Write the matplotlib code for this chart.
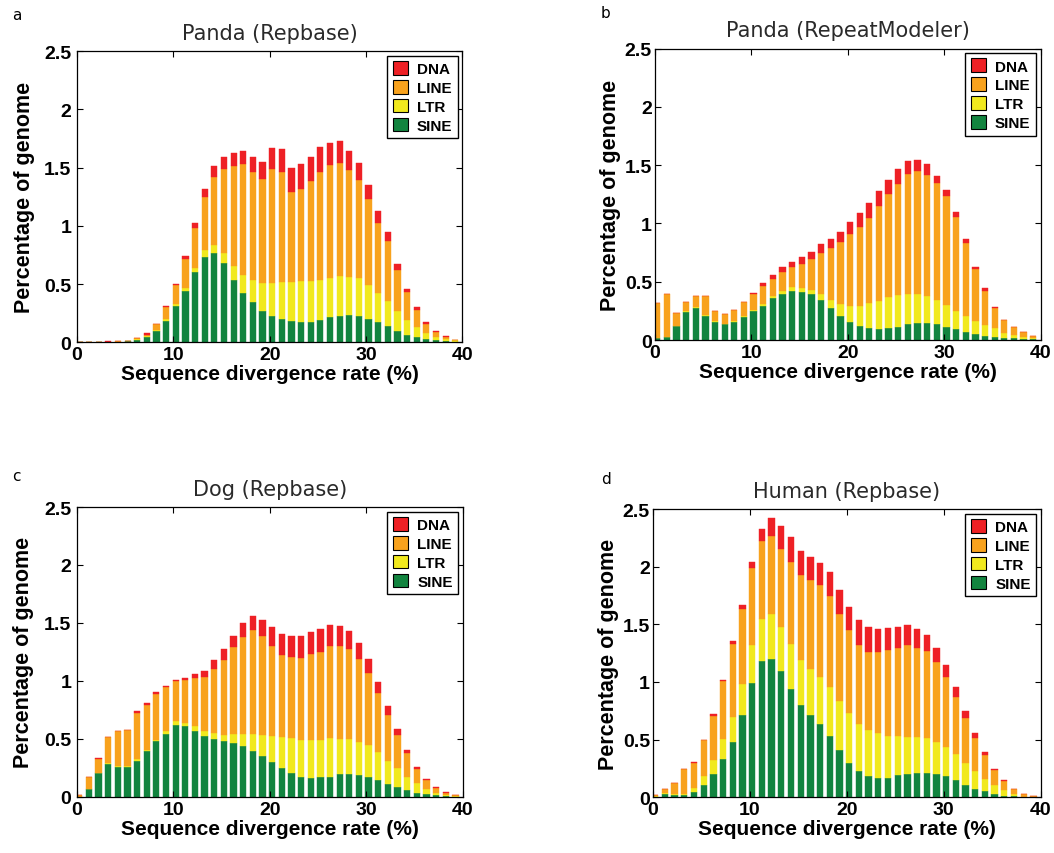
import numpy as np
import matplotlib
matplotlib.use("Agg")
import matplotlib.pyplot as plt
from matplotlib.patches import Patch
from matplotlib.ticker import FormatStrFormatter

# one bar per 1% bin of sequence divergence, values in % of genome
rate = np.arange(40)

# panda, Repbase library
panda_rb_sine = [0, 0, 0, 0, 0, 0.012, 0.02, 0.043, 0.097, 0.183,
                 0.309, 0.438, 0.607, 0.736, 0.768, 0.682, 0.533, 0.427, 0.344, 0.269,
                 0.223, 0.203, 0.183, 0.175, 0.175, 0.192, 0.215, 0.223, 0.235, 0.223,
                 0.203, 0.175, 0.140, 0.100, 0.066, 0.043, 0.026, 0.017, 0.011, 0.003]
panda_rb_ltr = [0, 0, 0, 0, 0, 0, 0.01, 0.009, 0.009, 0.017,
                0.023, 0.029, 0.034, 0.052, 0.063, 0.086, 0.120, 0.149, 0.189, 0.244,
                0.287, 0.318, 0.338, 0.347, 0.347, 0.341, 0.338, 0.344, 0.327, 0.327,
                0.289, 0.252, 0.212, 0.166, 0.126, 0.086, 0.052, 0.026, 0.020, 0.015]
panda_rb_line = [0, 0, 0, 0.005, 0.01, 0, 0.005, 0.009, 0.054, 0.106,
                 0.160, 0.244, 0.341, 0.458, 0.585, 0.722, 0.860, 0.957, 0.928, 0.888,
                 0.980, 0.940, 0.768, 0.797, 0.860, 0.928, 0.968, 0.968, 0.914, 0.840,
                 0.734, 0.593, 0.519, 0.352, 0.238, 0.152, 0.083, 0.046, 0.017, 0.003]
panda_rb_dna = [0, 0, 0, 0.01, 0, 0, 0, 0.017, 0, 0.006,
                0.011, 0.026, 0.043, 0.074, 0.097, 0.097, 0.109, 0.106, 0.126, 0.146,
                0.181, 0.198, 0.209, 0.212, 0.209, 0.212, 0.189, 0.189, 0.169, 0.149,
                0.123, 0.109, 0.077, 0.054, 0.029, 0.020, 0.014, 0.011, 0.009, 0]

# panda, RepeatModeler library
panda_rm_sine = [0.017, 0.029, 0.123, 0.243, 0.271, 0.209, 0.157, 0.134, 0.157, 0.197,
                 0.249, 0.294, 0.357, 0.391, 0.420, 0.409, 0.391, 0.340, 0.271, 0.209,
                 0.157, 0.123, 0.100, 0.091, 0.100, 0.111, 0.134, 0.143, 0.143, 0.134,
                 0.111, 0.091, 0.071, 0.049, 0.034, 0.026, 0.017, 0.014, 0.009, 0.009]
panda_rm_ltr = [0, 0, 0, 0.003, 0.009, 0.006, 0.003, 0.003, 0.003, 0.011,
                0.011, 0.017, 0.020, 0.029, 0.031, 0.034, 0.037, 0.057, 0.071, 0.103,
                0.134, 0.169, 0.214, 0.243, 0.266, 0.274, 0.263, 0.254, 0.237, 0.209,
                0.191, 0.157, 0.137, 0.117, 0.097, 0.074, 0.043, 0.031, 0.020, 0.011]
panda_rm_line = [0.297, 0.363, 0.106, 0.077, 0.097, 0.163, 0.089, 0.083, 0.100, 0.114,
                 0.131, 0.154, 0.146, 0.160, 0.171, 0.209, 0.266, 0.351, 0.449, 0.529,
                 0.614, 0.677, 0.729, 0.814, 0.883, 0.957, 1.031, 1.051, 1.037, 1.000,
                 0.931, 0.806, 0.620, 0.443, 0.291, 0.171, 0.111, 0.063, 0.040, 0.014]
panda_rm_dna = [0, 0, 0, 0, 0, 0, 0, 0, 0, 0,
                0.009, 0.020, 0.034, 0.043, 0.049, 0.063, 0.063, 0.074, 0.074, 0.089,
                0.109, 0.117, 0.129, 0.129, 0.123, 0.129, 0.106, 0.097, 0.091, 0.063,
                0.054, 0.046, 0.037, 0.020, 0.020, 0.011, 0, 0.006, 0, 0]

# dog, Repbase library
dog_sine = [0, 0.066, 0.207, 0.282, 0.259, 0.259, 0.311, 0.398, 0.481, 0.545,
            0.620, 0.608, 0.565, 0.524, 0.501, 0.481, 0.461, 0.441, 0.398, 0.354,
            0.300, 0.248, 0.205, 0.173, 0.161, 0.173, 0.173, 0.196, 0.196, 0.184,
            0.173, 0.141, 0.110, 0.086, 0.055, 0.035, 0.023, 0.012, 0.006, 0]
dog_ltr = [0, 0, 0, 0.009, 0.009, 0.009, 0.012, 0.009, 0.012, 0.023,
           0.035, 0.032, 0.043, 0.040, 0.052, 0.052, 0.084, 0.104, 0.147, 0.179,
           0.225, 0.268, 0.300, 0.317, 0.329, 0.317, 0.331, 0.305, 0.305, 0.286,
           0.274, 0.245, 0.202, 0.161, 0.118, 0.086, 0.043, 0.020, 0.009, 0.004]
dog_line = [0.012, 0.107, 0.115, 0.225, 0.300, 0.311, 0.403, 0.386, 0.395, 0.375,
            0.340, 0.366, 0.418, 0.473, 0.548, 0.643, 0.746, 0.836, 0.890, 0.855,
            0.778, 0.703, 0.703, 0.706, 0.738, 0.761, 0.793, 0.801, 0.772, 0.718,
            0.617, 0.513, 0.395, 0.288, 0.202, 0.115, 0.075, 0.040, 0.020, 0.008]
dog_dna = [0, 0, 0.012, 0, 0, 0, 0.012, 0.012, 0.012, 0.012,
           0.014, 0.020, 0.032, 0.046, 0.075, 0.095, 0.098, 0.118, 0.127, 0.141,
           0.161, 0.182, 0.182, 0.193, 0.193, 0.193, 0.182, 0.173, 0.159, 0.141,
           0.121, 0.095, 0.075, 0.052, 0.032, 0.017, 0.009, 0.012, 0.009, 0]

# human, Repbase library
human_sine = [0.006, 0.029, 0.020, 0.023, 0.043, 0.107, 0.203, 0.333, 0.484, 0.710,
              0.988, 1.183, 1.203, 1.099, 0.936, 0.797, 0.710, 0.635, 0.528, 0.406,
              0.301, 0.226, 0.183, 0.171, 0.171, 0.191, 0.203, 0.212, 0.212, 0.203,
              0.183, 0.151, 0.107, 0.075, 0.052, 0.032, 0.014, 0.009, 0.003, 0]
human_ltr = [0.006, 0.009, 0.009, 0.006, 0.035, 0.075, 0.119, 0.171, 0.212, 0.270,
             0.333, 0.365, 0.386, 0.380, 0.394, 0.394, 0.406, 0.406, 0.426, 0.432,
             0.428, 0.406, 0.397, 0.386, 0.365, 0.345, 0.322, 0.313, 0.299, 0.278,
             0.255, 0.223, 0.194, 0.151, 0.110, 0.075, 0.046, 0.017, 0.003, 0]
human_line = [0.009, 0.035, 0.099, 0.220, 0.220, 0.313, 0.386, 0.504, 0.635, 0.655,
              0.667, 0.678, 0.678, 0.678, 0.713, 0.733, 0.765, 0.797, 0.794, 0.751,
              0.719, 0.690, 0.684, 0.699, 0.739, 0.762, 0.797, 0.774, 0.757, 0.690,
              0.603, 0.496, 0.386, 0.290, 0.203, 0.128, 0.081, 0.046, 0.026, 0.012]
human_dna = [0, 0, 0, 0, 0.012, 0, 0.012, 0.012, 0.023, 0.029,
             0.055, 0.099, 0.154, 0.197, 0.214, 0.214, 0.206, 0.194, 0.209, 0.206,
             0.206, 0.212, 0.217, 0.206, 0.197, 0.183, 0.171, 0.162, 0.142, 0.128,
             0.110, 0.084, 0.064, 0.041, 0.026, 0.012, 0.009, 0, 0, 0]

classes = ["SINE", "LTR", "LINE", "DNA"]
colors = {"DNA": "#ee2025", "LINE": "#f8a21d", "LTR": "#f1e91e", "SINE": "#12843f"}

plt.rcParams["font.family"] = ["Liberation Sans", "DejaVu Sans"]
plt.rcParams["font.weight"] = "bold"


def draw(ax, sine, ltr, line, dna, title, ypad, ylabpad):
    x = rate + 0.25
    bottom = np.zeros(len(rate))
    for name, vals in zip(classes, [sine, ltr, line, dna]):
        ax.bar(x, vals, width=0.65, bottom=bottom, color=colors[name],
               edgecolor=colors[name], linewidth=0.3)
        bottom = bottom + np.array(vals)
    ax.set_xlim(0, 40)
    ax.set_ylim(0, 2.5)
    ax.set_xticks([0, 10, 20, 30, 40])
    ax.set_yticks([0, 0.5, 1, 1.5, 2, 2.5])
    ax.yaxis.set_major_formatter(FormatStrFormatter("%g"))
    ax.tick_params(direction="in", top=True, right=True, length=4, width=0.8,
                   labelsize=14)
    ax.tick_params(axis="x", pad=3)
    ax.tick_params(axis="y", pad=ypad)
    for s in ax.spines.values():
        s.set_linewidth(0.9)
    ax.set_xlabel("Sequence divergence rate (%)", fontsize=15, fontweight="bold",
                  labelpad=0.5)
    ax.set_ylabel("Percentage of genome", fontsize=15.5, fontweight="bold",
                  labelpad=ylabpad)
    ax.set_title(title, fontsize=15, fontweight="normal", color="#2a2a2a", pad=9,
                 family="DejaVu Sans")
    handles = [Patch(facecolor=colors[n], edgecolor="black", linewidth=0.8)
               for n in ["DNA", "LINE", "LTR", "SINE"]]
    leg = ax.legend(handles, ["DNA", "LINE", "LTR", "SINE"], loc="upper right",
                    fancybox=False, edgecolor="black", framealpha=1,
                    prop={"size": 11, "weight": "bold"}, handlelength=1.0,
                    handleheight=1.0, handletextpad=0.6, labelspacing=0.25,
                    borderpad=0.35, borderaxespad=0.3)
    leg.get_frame().set_linewidth(1.0)


fig = plt.figure(figsize=(10.54, 8.54), dpi=100)

panels = [
    ("a", [0.0731, 0.598, 0.3657, 0.3411], panda_rb_sine, panda_rb_ltr, panda_rb_line,
     panda_rb_dna, "Panda (Repbase)"),
    ("b", [0.6212, 0.6007, 0.3660, 0.3413], panda_rm_sine, panda_rm_ltr, panda_rm_line,
     panda_rm_dna, "Panda (RepeatModeler)"),
    ("c", [0.0728, 0.0659, 0.3662, 0.3392], dog_sine, dog_ltr, dog_line, dog_dna,
     "Dog (Repbase)"),
    ("d", [0.6193, 0.0652, 0.3681, 0.3376], human_sine, human_ltr, human_line, human_dna,
     "Human (Repbase)"),
]
letter_xy = {"a": (12, 15), "b": (601, 14), "c": (12, 477), "d": (601, 480)}

for letter, rect, s, l, li, d, title in panels:
    ax = fig.add_axes(rect)
    left_col = letter in ("a", "c")
    draw(ax, s, l, li, d, title, ypad=4 if left_col else 2,
         ylabpad=7 if left_col else 3)
    px, py = letter_xy[letter]
    fig.text(px / 1054, 1 - py / 854, letter, fontsize=11, fontweight="normal",
             family="DejaVu Sans", va="center", ha="left")

fig.savefig("out.png", dpi=100)
